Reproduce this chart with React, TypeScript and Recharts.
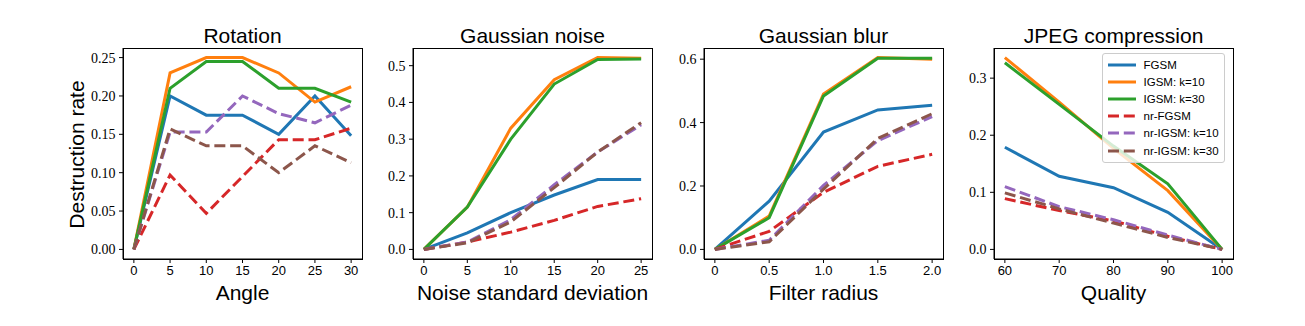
import React from 'react';
import { LineChart, Line, XAxis, YAxis, Legend } from 'recharts';

// ---------- series definitions ----------
const seriesNames = ['FGSM', 'IGSM: k=10', 'IGSM: k=30', 'nr-FGSM', 'nr-IGSM: k=10', 'nr-IGSM: k=30'];
const seriesColors = ['#1f77b4', '#ff7f0e', '#2ca02c', '#d62728', '#9467bd', '#8c564b'];
const seriesDashed = [false, false, false, true, true, true];

// ---------- Rotation ----------
const rotationAngle = [0, 5, 10, 15, 20, 25, 30];
const rotFGSM = [0, 0.2, 0.175, 0.175, 0.15, 0.2, 0.148];
const rotIGSM10 = [0, 0.23, 0.25, 0.25, 0.23, 0.192, 0.212];
const rotIGSM30 = [0, 0.21, 0.245, 0.245, 0.21, 0.21, 0.192];
const rotNrFGSM = [0, 0.097, 0.047, 0.095, 0.143, 0.143, 0.158];
const rotNrIGSM10 = [0, 0.153, 0.153, 0.2, 0.177, 0.165, 0.188];
const rotNrIGSM30 = [0, 0.157, 0.135, 0.135, 0.1, 0.135, 0.113];
const rotXTicks = [0, 5, 10, 15, 20, 25, 30];
const rotXTickLabels = ['0', '5', '10', '15', '20', '25', '30'];
const rotYTicks = [0, 0.05, 0.1, 0.15, 0.2, 0.25];
const rotYTickLabels = ['0.00', '0.05', '0.10', '0.15', '0.20', '0.25'];

// ---------- Gaussian noise ----------
const noiseStd = [0, 5, 10, 15, 20, 25];
const noiseFGSM = [0, 0.045, 0.1, 0.148, 0.19, 0.19];
const noiseIGSM10 = [0, 0.115, 0.33, 0.462, 0.522, 0.52];
const noiseIGSM30 = [0, 0.115, 0.3, 0.45, 0.517, 0.518];
const noiseNrFGSM = [0, 0.02, 0.047, 0.079, 0.117, 0.138];
const noiseNrIGSM10 = [0, 0.02, 0.081, 0.176, 0.265, 0.339];
const noiseNrIGSM30 = [0, 0.018, 0.075, 0.168, 0.265, 0.345];
const noiseXTicks = [0, 5, 10, 15, 20, 25];
const noiseXTickLabels = ['0', '5', '10', '15', '20', '25'];
const noiseYTicks = [0, 0.1, 0.2, 0.3, 0.4, 0.5];
const noiseYTickLabels = ['0.0', '0.1', '0.2', '0.3', '0.4', '0.5'];

// ---------- Gaussian blur ----------
const blurRadius = [0, 0.5, 1.0, 1.5, 2.0];
const blurFGSM = [0, 0.152, 0.37, 0.44, 0.455];
const blurIGSM10 = [0, 0.105, 0.49, 0.605, 0.6];
const blurIGSM30 = [0, 0.1, 0.484, 0.603, 0.603];
const blurNrFGSM = [0, 0.057, 0.18, 0.262, 0.3];
const blurNrIGSM10 = [0, 0.029, 0.202, 0.343, 0.419];
const blurNrIGSM30 = [0, 0.024, 0.19, 0.35, 0.428];
const blurXTicks = [0, 0.5, 1.0, 1.5, 2.0];
const blurXTickLabels = ['0', '0.5', '1.0', '1.5', '2.0'];
const blurYTicks = [0, 0.2, 0.4, 0.6];
const blurYTickLabels = ['0.0', '0.2', '0.4', '0.6'];

// ---------- JPEG compression ----------
const jpegQuality = [60, 70, 80, 90, 100];
const jpegFGSM = [0.179, 0.128, 0.108, 0.065, 0];
const jpegIGSM10 = [0.336, 0.258, 0.177, 0.103, 0];
const jpegIGSM30 = [0.327, 0.254, 0.181, 0.115, 0];
const jpegNrFGSM = [0.089, 0.068, 0.05, 0.023, 0];
const jpegNrIGSM10 = [0.11, 0.075, 0.052, 0.025, 0];
const jpegNrIGSM30 = [0.099, 0.071, 0.046, 0.021, 0];
const jpegXTicks = [60, 70, 80, 90, 100];
const jpegXTickLabels = ['60', '70', '80', '90', '100'];
const jpegYTicks = [0, 0.1, 0.2, 0.3];
const jpegYTickLabels = ['0.0', '0.1', '0.2', '0.3'];

// ---------- layout / style ----------
const SANS = '"Liberation Sans", Arial, sans-serif';
const SERIF = '"Liberation Serif", "Times New Roman", serif';
const PLOT_TOP = 48;
const PLOT_BOTTOM = 259;
const PLOT_W = 239;
const YAXIS_W = 60;
const CHART_H = 326;
const LINE_W = 3;
const DASH = '11 4.8';

const padDomain = (values: number[]): [number, number] => {
  const lo = Math.min(...values);
  const hi = Math.max(...values);
  const p = (hi - lo) * 0.05;
  return [lo - p, hi + p];
};

const labelFor = (ticks: number[], labels: string[]) => (v: number) => {
  const i = ticks.findIndex((t) => Math.abs(t - v) < 1e-9);
  return i >= 0 ? labels[i] : String(v);
};

function LegendBox() {
  return (
    <div
      style={{
        width: 123,
        boxSizing: 'border-box',
        border: '1px solid #cccccc',
        borderRadius: 3,
        background: 'rgba(255,255,255,0.8)',
        padding: '2px 0 3px 0',
      }}
    >
      {seriesNames.map((name, i) => (
        <div key={name} style={{ display: 'flex', alignItems: 'center', height: 17.2 }}>
          <svg width={28} height={6} style={{ marginLeft: 4.5, display: 'block' }}>
            <line
              x1={0}
              y1={3}
              x2={28}
              y2={3}
              stroke={seriesColors[i]}
              strokeWidth={LINE_W}
              strokeDasharray={seriesDashed[i] ? DASH : undefined}
            />
          </svg>
          <span style={{ marginLeft: 8, fontSize: 11.5, fontFamily: SANS, color: '#000', lineHeight: '12px' }}>
            {name}
          </span>
        </div>
      ))}
    </div>
  );
}

type PanelProps = {
  plotLeft: number;
  title: string;
  xLabel: string;
  xValues: number[];
  series: number[][];
  xTicks: number[];
  xTickLabels: string[];
  yTicks: number[];
  yTickLabels: string[];
  legend?: boolean;
};

function Panel(props: PanelProps) {
  const { plotLeft, title, xLabel, xValues, series, xTicks, xTickLabels, yTicks, yTickLabels, legend } = props;
  const rows = xValues.map((x, i) => {
    const r: Record<string, number> = { x };
    series.forEach((s, k) => {
      r[`s${k}`] = s[i];
    });
    return r;
  });
  const xDomain = padDomain(xValues);
  const yDomain = padDomain(series.flat());
  const chartLeft = plotLeft - YAXIS_W;
  const chartW = YAXIS_W + PLOT_W + 6;
  const axisStroke = { stroke: '#000', strokeWidth: 1 };

  return (
    <>
      <div style={{ position: 'absolute', left: chartLeft, top: 0 }}>
        <LineChart
          width={chartW}
          height={CHART_H}
          data={rows}
          margin={{ top: PLOT_TOP, right: 6, bottom: 0, left: 0 }}
        >
          <XAxis
            dataKey="x"
            type="number"
            domain={xDomain}
            allowDataOverflow
            ticks={xTicks}
            tickFormatter={labelFor(xTicks, xTickLabels)}
            height={CHART_H - PLOT_BOTTOM}
            tickSize={4}
            tickMargin={3}
            axisLine={axisStroke}
            tickLine={axisStroke}
            tick={{ fill: '#000', fontSize: 13, fontFamily: SANS }}
            interval={0}
          />
          <YAxis
            type="number"
            domain={yDomain}
            allowDataOverflow
            ticks={yTicks}
            tickFormatter={labelFor(yTicks, yTickLabels)}
            width={YAXIS_W}
            tickSize={4}
            tickMargin={3.5}
            axisLine={axisStroke}
            tickLine={axisStroke}
            tick={{ fill: '#000', fontSize: 14, fontFamily: SERIF }}
            interval={0}
          />
          {series.map((_, k) => (
            <Line
              key={k}
              type="linear"
              dataKey={`s${k}`}
              name={seriesNames[k]}
              stroke={seriesColors[k]}
              strokeWidth={LINE_W}
              strokeDasharray={seriesDashed[k] ? DASH : undefined}
              dot={false}
              activeDot={false}
              isAnimationActive={false}
            />
          ))}
          {legend && (
            <Legend
              layout="vertical"
              align="center"
              verticalAlign="middle"
              wrapperStyle={{ left: 1102 - chartLeft, top: 53, width: 123, height: 'auto' }}
              content={() => <LegendBox />}
            />
          )}
        </LineChart>
      </div>
      {/* plot frame (top / right spines) */}
      <div
        style={{
          position: 'absolute',
          left: plotLeft - 0.5,
          top: PLOT_TOP - 0.5,
          width: PLOT_W + 1,
          height: PLOT_BOTTOM - PLOT_TOP + 1,
          boxSizing: 'border-box',
          border: '1px solid #000',
          pointerEvents: 'none',
        }}
      />
      <div
        style={{
          position: 'absolute',
          left: plotLeft,
          width: PLOT_W,
          top: 25,
          textAlign: 'center',
          fontFamily: SANS,
          fontSize: 21,
          lineHeight: '21px',
          color: '#000',
          whiteSpace: 'nowrap',
        }}
      >
        {title}
      </div>
      <div
        style={{
          position: 'absolute',
          left: plotLeft - 30,
          width: PLOT_W + 60,
          top: 282,
          textAlign: 'center',
          fontFamily: SANS,
          fontSize: 21,
          lineHeight: '21px',
          color: '#000',
          whiteSpace: 'nowrap',
        }}
      >
        {xLabel}
      </div>
    </>
  );
}

export default function App() {
  return (
    <div
      style={{
        position: 'absolute',
        left: 0,
        top: 0,
        width: 1305,
        height: 326,
        background: '#fff',
        overflow: 'hidden',
      }}
    >
      <div
        style={{
          position: 'absolute',
          left: 75.5 - 110,
          top: 154 - 10.5,
          width: 220,
          height: 21,
          transform: 'rotate(-90deg)',
          textAlign: 'center',
          fontFamily: SANS,
          fontSize: 21,
          lineHeight: '21px',
          color: '#000',
          whiteSpace: 'nowrap',
        }}
      >
        Destruction rate
      </div>
      <Panel
        plotLeft={123}
        title="Rotation"
        xLabel="Angle"
        xValues={rotationAngle}
        series={[rotFGSM, rotIGSM10, rotIGSM30, rotNrFGSM, rotNrIGSM10, rotNrIGSM30]}
        xTicks={rotXTicks}
        xTickLabels={rotXTickLabels}
        yTicks={rotYTicks}
        yTickLabels={rotYTickLabels}
      />
      <Panel
        plotLeft={413}
        title="Gaussian noise"
        xLabel="Noise standard deviation"
        xValues={noiseStd}
        series={[noiseFGSM, noiseIGSM10, noiseIGSM30, noiseNrFGSM, noiseNrIGSM10, noiseNrIGSM30]}
        xTicks={noiseXTicks}
        xTickLabels={noiseXTickLabels}
        yTicks={noiseYTicks}
        yTickLabels={noiseYTickLabels}
      />
      <Panel
        plotLeft={704}
        title="Gaussian blur"
        xLabel="Filter radius"
        xValues={blurRadius}
        series={[blurFGSM, blurIGSM10, blurIGSM30, blurNrFGSM, blurNrIGSM10, blurNrIGSM30]}
        xTicks={blurXTicks}
        xTickLabels={blurXTickLabels}
        yTicks={blurYTicks}
        yTickLabels={blurYTickLabels}
      />
      <Panel
        plotLeft={994}
        title="JPEG compression"
        xLabel="Quality"
        xValues={jpegQuality}
        series={[jpegFGSM, jpegIGSM10, jpegIGSM30, jpegNrFGSM, jpegNrIGSM10, jpegNrIGSM30]}
        xTicks={jpegXTicks}
        xTickLabels={jpegXTickLabels}
        yTicks={jpegYTicks}
        yTickLabels={jpegYTickLabels}
        legend
      />
    </div>
  );
}
